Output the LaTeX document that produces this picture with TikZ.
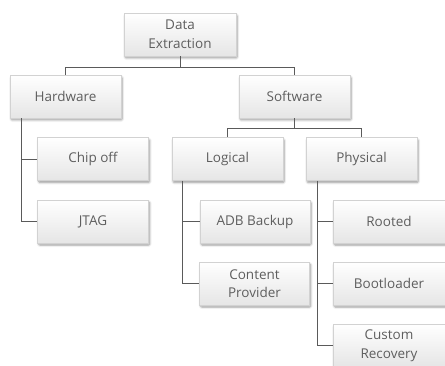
\documentclass[tikz,border=0pt]{standalone}
\usepackage{fontspec}
\setmainfont{Open Sans}
\usetikzlibrary{shadows.blur}
\definecolor{txtgray}{HTML}{5E5E5E}
\definecolor{linegray}{HTML}{5A5A5A}
\definecolor{boxedge}{HTML}{D2D2D2}
\tikzset{
  box/.style={rectangle, draw=boxedge, line width=0.6pt,
    top color=white, bottom color=black!10,
    minimum width=111pt, minimum height=43pt, inner sep=2pt,
    align=center, text=txtgray, font=\fontsize{13.5}{18.5}\selectfont,
    blur shadow={shadow xshift=1.2pt, shadow yshift=-2pt,
      shadow blur steps=6, shadow opacity=40, shadow blur extra rounding=1pt}},
  link/.style={draw=linegray, line width=0.9pt}
}
\begin{document}
\begin{tikzpicture}[x=1pt, y=-1pt]
  \useasboundingbox (0,0) rectangle (445,366);
  \clip (0,0) rectangle (445,366);
  % top level
  \node[box, minimum width=112pt] (de) at (180,34.5) {Data\\Extraction};
  \node[box] (hw) at (65.5,96.5) {Hardware};
  \node[box] (sw) at (294.5,96.5) {Software};
  % hardware methods
  \node[box] (co) at (93,159) {Chip off};
  \node[box] (jt) at (93,221.5) {JTAG};
  % software methods
  \node[box] (lg) at (227.5,159) {Logical};
  \node[box] (ph) at (361.5,159) {Physical};
  \node[box, minimum width=110pt] (adb) at (255,221.5) {ADB Backup};
  \node[box, minimum width=110pt] (cp) at (254.5,283.5) {Content\\Provider};
  \node[box, minimum width=112pt] (ro) at (389,221.5) {Rooted};
  \node[box, minimum width=112pt] (bl) at (389,283.5) {Bootloader};
  \node[box, minimum width=112pt] (cr) at (389,345.5) {Custom\\Recovery};
  % connectors
  \draw[link] (de.south) -- ++(0,11) -| (hw.north);
  \draw[link] (de.south) -- ++(0,11) -| (sw.north);
  \draw[link] (sw.south) -- ++(0,10) -| (lg.north);
  \draw[link] (sw.south) -- ++(0,10) -| (ph.north);
  \draw[link] ([xshift=12pt]hw.south west) |- (co.west);
  \draw[link] ([xshift=12pt]hw.south west) |- (jt.west);
  \draw[link] ([xshift=11pt]lg.south west) |- (adb.west);
  \draw[link] ([xshift=11pt]lg.south west) |- (cp.west);
  \draw[link] ([xshift=11.5pt]ph.south west) |- (ro.west);
  \draw[link] ([xshift=11.5pt]ph.south west) |- (bl.west);
  \draw[link] ([xshift=11.5pt]ph.south west) |- (cr.west);
\end{tikzpicture}
\end{document}
